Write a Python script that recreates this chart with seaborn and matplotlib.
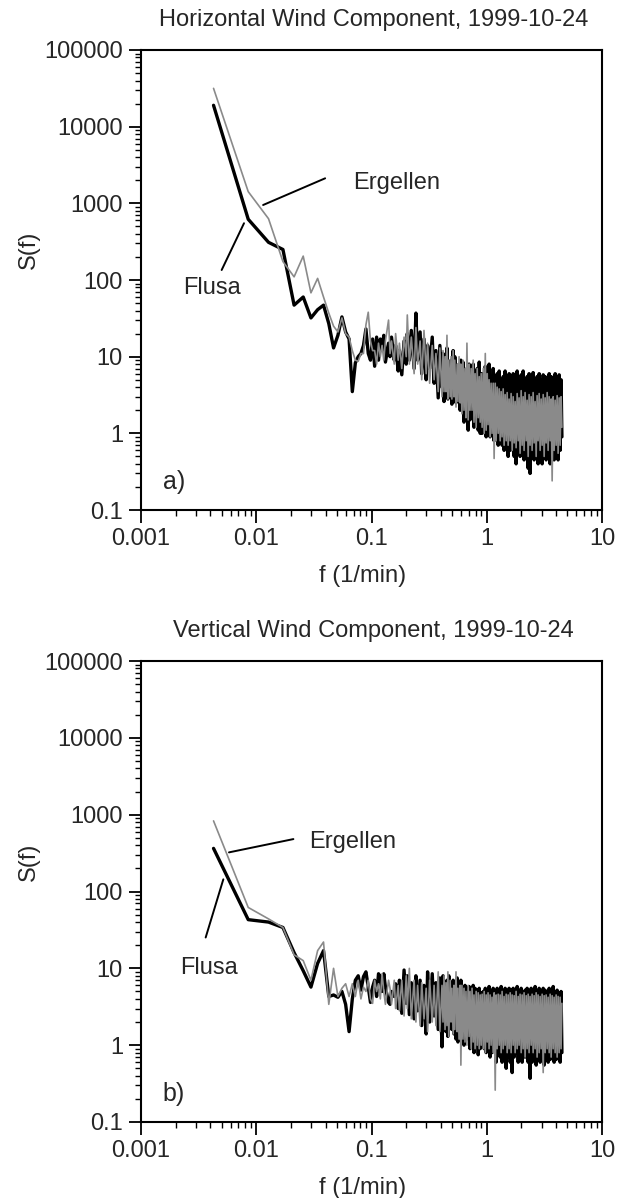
import numpy as np
import pandas as pd
import matplotlib
matplotlib.use('Agg')
import matplotlib.pyplot as plt
import seaborn as sns
from matplotlib.ticker import FixedLocator, FuncFormatter, LogLocator, NullFormatter

DF = 0.00426  # spectral resolution (1/min)

# spectral bins kept (all low ones, thinned out at high frequency)
bins = [1, 2, 3, 4, 5, 6, 7, 8, 9, 10, 11, 12, 13, 14, 15, 16, 17, 18, 19, 20, 21, 22, 23, 24,
        25, 26, 27, 28, 29, 30, 31, 33, 34, 35, 37, 38,
        40, 41, 43, 45, 47, 48, 50, 52, 55, 57, 59, 62, 64, 67, 70, 72, 75, 79, 82, 85, 89, 92,
        96, 98, 100, 102, 104, 106, 108, 110, 113, 115,
        117, 120, 122, 124, 127, 130, 132, 135, 138, 140,
        143, 146, 149, 152, 155, 158, 162, 165, 168, 172,
        175, 179, 182, 186, 190, 194, 198, 202, 206, 210,
        214, 219, 223, 228, 232, 237, 241, 246, 251, 256,
        261, 267, 272, 278, 283, 289, 295, 301, 307, 313,
        319, 326, 332, 339, 346, 353, 360, 367, 375, 382,
        390, 398, 406, 414, 422, 431, 440, 448, 457, 467,
        476, 486, 495, 505, 516, 526, 537, 547, 558, 570,
        581, 593, 605, 617, 630, 642, 655, 669, 682, 696,
        710, 725, 739, 754, 769, 785, 800, 817, 833, 850,
        867, 885, 902, 921, 939, 958, 977, 997, 1017, 1036,
        1054]

# a) horizontal wind
flusa_h = [19000, 620, 310, 250, 47, 60, 32, 41, 47, 27, 13, 19, 33, 21, 17, 3.5, 8.3, 10, 11, 14, 23, 11, 9, 17,
           7.5, 18, 9, 17, 12, 19, 8.5, 15, 10, 18, 9, 14,
           6.5, 12, 5.8, 16, 8, 20, 9, 22, 7, 37, 9, 21, 6, 17, 5, 14, 7, 18, 4.5, 12, 2.9, 14,
           4, 11, 2.6, 9, 3.5, 13, 2.8, 8, 3.5, 9,
           2.4, 12, 3, 10, 2.5, 7, 3.2, 8, 2.0, 9,
           2.2, 8.5, 1.4, 6, 1.8, 7, 1.1, 8, 1.5, 6.5,
           1.6, 8, 1.2, 6.5, 1.3, 7, 1.1, 8.5, 1.0, 6,
           1.0, 6, 1.2, 7.5, 0.9, 6.5, 1.3, 8, 0.9, 5.5,
           1.1, 7, 0.8, 5.5, 1.0, 6, 0.7, 6.5, 0.9, 5,
           0.7, 5.5, 0.6, 6.5, 0.8, 5, 0.5, 6, 0.6, 5.5,
           0.7, 6, 0.5, 5, 0.4, 6.5, 0.6, 4.8, 0.5, 5.8,
           0.6, 6.5, 0.45, 5, 0.55, 5.5, 0.35, 6, 0.3, 5.2,
           0.5, 6.2, 0.45, 4.8, 0.55, 5.5, 0.4, 6, 0.5, 5,
           0.4, 5.8, 0.6, 5.5, 0.45, 4.6, 0.5, 6, 0.4, 5.5,
           0.5, 5, 0.45, 6, 0.55, 5.2, 0.45, 5.8, 0.6, 5,
           0.9]
ergellen_h = [31600, 1420, 630, 174, 110, 205, 68, 105, 60, 37, 25, 21, 32, 20, 18, 12, 9, 8.7, 11, 11, 26, 38, 16, 12,
              12, 8, 15, 10, 14, 9, 16, 30, 11, 16, 8, 20,
              9, 15, 7, 18, 10, 35, 8, 18, 6, 24, 8, 16, 5, 22, 6, 15, 4.5, 14, 5, 11, 3.5, 13,
              3, 12, 3.5, 10, 3.5, 19, 2.8, 9, 3, 10,
              2.8, 12, 3, 9, 2.2, 8, 2.6, 10, 2.5, 8,
              1.8, 9, 2, 7, 1.6, 15, 1.5, 8, 2, 7,
              2, 9, 1.4, 6, 1.2, 7, 1.6, 5.5, 1.4, 6,
              1.2, 7, 1.0, 11, 1.1, 6, 1.3, 5, 0.9, 4.5,
              1.0, 4.5, 0.47, 4.5, 0.8, 4, 1.0, 3.8, 0.8, 3.5,
              0.9, 3.8, 0.7, 3.2, 0.8, 3.4, 0.7, 2.8, 0.8, 3.3,
              0.6, 3, 0.75, 2.6, 0.65, 3.3, 0.8, 2.9, 0.55, 3.6,
              0.7, 3, 0.6, 3.4, 0.8, 2.7, 0.5, 3.2, 0.7, 3,
              0.6, 3.4, 0.75, 2.6, 0.5, 3.1, 0.8, 3.3, 0.6, 2.8,
              0.7, 3.2, 0.5, 2.9, 0.75, 3.4, 0.6, 3, 0.8, 2.8,
              0.24, 3, 0.6, 2.7, 0.7, 3.1, 0.55, 2.9, 0.7, 3,
              1.2]

# b) vertical wind
flusa_v = [364, 43, 40, 34, 16, 9.3, 5.7, 11.6, 17, 4.3, 4.5, 4.2, 5, 3.4, 1.5, 4, 7, 8, 5.2, 7.8, 9, 5.7, 3.6, 5.7,
           7, 4.3, 8.5, 7.8, 5, 8.5, 5.7, 3.6, 3.4, 5, 4.3, 6.3,
           3, 7, 2.6, 9.5, 3.5, 8, 2.5, 6.5, 2.2, 8, 2.8, 7, 1.8, 6, 1.4, 9, 2, 8.5, 2.4, 6.5, 1.6, 7.5,
           0.95, 8, 1.8, 6, 1.5, 7, 1.3, 8, 2, 6.5,
           1.6, 7, 1.4, 6.5, 1.2, 7.5, 1.1, 6, 1.5, 7,
           1.2, 5.5, 1.0, 6, 1.3, 5, 1.2, 5.8, 0.9, 5,
           1.0, 6, 0.8, 5.5, 1.1, 5.2, 0.75, 5.5, 0.9, 4.8,
           1.1, 5, 0.9, 5.5, 0.8, 4.8, 1.0, 5.8, 0.7, 5,
           0.8, 5.5, 0.9, 4.6, 0.6, 5.5, 0.8, 5, 0.7, 5.8,
           0.6, 5, 0.75, 5.5, 0.5, 4.8, 0.7, 5.5, 0.6, 5.2,
           0.44, 5.5, 0.7, 4.8, 0.8, 5.8, 0.6, 5, 0.7, 5.5,
           0.6, 4.8, 0.7, 5.2, 0.7, 5.5, 0.6, 4.5, 0.37, 5.5,
           0.6, 5, 0.7, 5.8, 0.55, 4.6, 0.7, 5.5, 0.6, 5,
           0.75, 5.5, 0.55, 5.2, 0.7, 4.8, 0.6, 5.5, 0.65, 5,
           0.7, 5.8, 0.6, 5, 0.65, 5.2, 0.7, 4.8, 0.6, 5,
           0.8]
ergellen_v = [830, 62, 44, 34, 15, 12.6, 7, 17, 22, 3.4, 10, 4.3, 5.5, 6.3, 4.3, 6.3, 4.3, 7, 4, 5.7, 5, 7, 4, 3.5,
              7, 5, 6.3, 4, 8.5, 5, 3.4, 7, 5.5, 3.4, 7, 3,
              6, 2.8, 7, 2.4, 8, 3, 10, 2.2, 7, 2, 6, 1.8, 6.5, 2.2, 5.5, 1.5, 7, 2, 6, 1.8, 9, 1.5,
              6, 2, 8, 1.6, 6.5, 1.8, 9, 1.3, 7, 2,
              5.5, 1.4, 6, 1.6, 9, 1.5, 5.5, 1.2, 6, 0.55,
              6, 1.2, 5.5, 1.1, 5, 1.0, 6, 1.3, 5, 0.9,
              5.5, 1.1, 4.5, 0.9, 5, 1.0, 4.8, 0.9, 4.5, 1.0,
              4.6, 0.9, 5, 0.8, 4.5, 1.1, 4.8, 0.9, 4.5, 1.0,
              4.2, 0.8, 4.8, 0.26, 4.5, 0.9, 4.6, 1.0, 4.5, 0.8,
              5, 0.9, 4.3, 1.0, 4.6, 0.8, 4.5, 0.9, 4.8, 0.8,
              4.5, 1.0, 4.4, 0.8, 5, 0.9, 4.3, 1.0, 4.6, 0.8,
              4.5, 0.9, 4.8, 0.7, 4.4, 0.9, 4.6, 0.8, 4.3, 1.0,
              4.6, 0.8, 4.4, 0.9, 4.8, 0.7, 4.5, 0.8, 4.3, 0.9,
              4.6, 0.44, 4.4, 0.8, 4.5, 0.9, 4.2, 0.8, 4.6, 0.7,
              4.4, 0.9, 4.2, 0.8, 4.5, 0.7, 4.3, 0.8, 4.2, 0.9,
              3.5]

titles = ['Horizontal Wind Component, 1999-10-24', 'Vertical Wind Component, 1999-10-24']
panel_tags = ['a)', 'b)']
xticks = [0.001, 0.01, 0.1, 1, 10]
yticks = [0.1, 1, 10, 100, 1000, 10000, 100000]

for s in (flusa_h, ergellen_h, flusa_v, ergellen_v):
    assert len(s) == len(bins), (len(s), len(bins))

freq = np.array(bins) * DF
frames = []
for panel, fl, er in (('h', flusa_h, ergellen_h), ('v', flusa_v, ergellen_v)):
    frames.append(pd.DataFrame({'f': freq, 'S': fl, 'site': 'Flusa', 'panel': panel}))
    frames.append(pd.DataFrame({'f': freq, 'S': er, 'site': 'Ergellen', 'panel': panel}))
df = pd.concat(frames, ignore_index=True)

sns.set_style('ticks')
plt.rcParams['font.family'] = ['Liberation Sans', 'DejaVu Sans']
FS = 17

W, H = 617, 1198
fig = plt.figure(figsize=(W / 100, H / 100), dpi=100)
ax_a = fig.add_axes([141 / W, 1 - 510 / H, 461 / W, 460 / H])
ax_b = fig.add_axes([141 / W, 1 - 1122 / H, 461 / W, 461 / H])

# annotation spots (data coords): (text xy, line start, line end)
notes = {
    'h': {'Ergellen': ((0.0692, 1840), (0.01147, 951), (0.0396, 2120)),
          'Flusa': ((0.0041, 79), (0.00501, 135), (0.00783, 550))},
    'v': {'Ergellen': ((0.0287, 440), (0.0058, 323), (0.021, 481)),
          'Flusa': ((0.0039, 10), (0.00364, 25.2), (0.00518, 144))},
}

for ax, panel, title, tag in ((ax_a, 'h', titles[0], panel_tags[0]),
                              (ax_b, 'v', titles[1], panel_tags[1])):
    sub = df[df['panel'] == panel]
    sns.lineplot(data=sub[sub['site'] == 'Flusa'], x='f', y='S', color='black', lw=2.4,
                 estimator=None, sort=False, ax=ax)
    sns.lineplot(data=sub[sub['site'] == 'Ergellen'], x='f', y='S', color='#8a8a8a', lw=1.2,
                 estimator=None, sort=False, ax=ax)
    ax.set_xscale('log')
    ax.set_yscale('log')
    ax.set_xlim(0.001, 10)
    ax.set_ylim(0.1, 100000)

    ax.xaxis.set_major_locator(FixedLocator(xticks))
    ax.yaxis.set_major_locator(FixedLocator(yticks))
    ax.xaxis.set_major_formatter(FuncFormatter(lambda v, p: '%g' % v))
    ax.yaxis.set_major_formatter(FuncFormatter(lambda v, p: '%g' % v))
    ax.xaxis.set_minor_locator(LogLocator(base=10, subs=np.arange(2, 10), numticks=20))
    ax.yaxis.set_minor_locator(LogLocator(base=10, subs=np.arange(2, 10), numticks=20))
    ax.xaxis.set_minor_formatter(NullFormatter())
    ax.yaxis.set_minor_formatter(NullFormatter())
    ax.tick_params(which='major', length=9, width=1.3, labelsize=FS, pad=4, color='black')
    ax.tick_params(which='minor', length=4.5, width=1.0, color='black')
    ax.tick_params(top=False, right=False, which='both')
    for sp in ax.spines.values():
        sp.set_linewidth(1.5)
        sp.set_color('black')

    ax.set_xlabel('f (1/min)', fontsize=FS)
    ax.set_ylabel('S(f)', fontsize=FS)
    ax.xaxis.set_label_coords(0.48, -0.12)
    ax.yaxis.set_label_coords(-0.219, 0.565)
    ax.text(0.505, 1 + 24 / 460, title, transform=ax.transAxes, ha='center', va='baseline', fontsize=FS)
    ax.text(0.0716, 0.061, tag, transform=ax.transAxes, ha='center', va='center', fontsize=FS + 1)

    for name, (txy, p0, p1) in notes[panel].items():
        ax.plot([p0[0], p1[0]], [p0[1], p1[1]], color='black', lw=1.4)
        ha = 'left' if name == 'Ergellen' else 'center'
        ax.text(txy[0], txy[1], name, ha=ha, va='center', fontsize=FS)

fig.savefig('out.png', dpi=100)
